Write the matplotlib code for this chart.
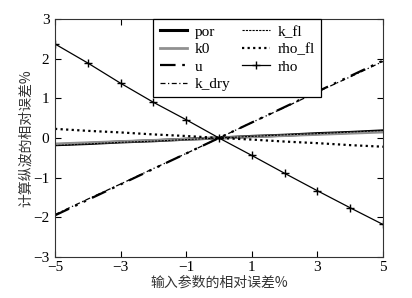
import matplotlib
matplotlib.use("Agg")
import matplotlib.pyplot as plt

x = [-5, -4, -3, -2, -1, 0, 1, 2, 3, 4, 5]
por = [-0.17, -0.14, -0.10, -0.07, -0.03, 0, 0.04, 0.07, 0.11, 0.14, 0.18]
k0 = [-0.15, -0.12, -0.09, -0.06, -0.03, 0, 0.03, 0.06, 0.09, 0.12, 0.15]
u = [-1.95, -1.56, -1.17, -0.78, -0.39, 0, 0.39, 0.78, 1.17, 1.56, 1.95]
k_dry = [-1.93, -1.54, -1.16, -0.77, -0.39, 0, 0.39, 0.77, 1.16, 1.54, 1.93]
k_fl = [-0.19, -0.15, -0.11, -0.08, -0.04, 0, 0.04, 0.08, 0.11, 0.15, 0.19]
rho_fl = [0.23, 0.18, 0.14, 0.09, 0.05, 0, -0.04, -0.09, -0.13, -0.18, -0.22]
rho = [2.37, 1.89, 1.38, 0.90, 0.46, 0, -0.44, -0.89, -1.33, -1.76, -2.18]

xticks = [-5, -3, -1, 1, 3, 5]
yticks = [-3, -2, -1, 0, 1, 2, 3]

serif = ["Liberation Serif", "DejaVu Serif"]
cjk = ["Noto Sans CJK SC", "DejaVu Sans"]

fig = plt.figure(figsize=(4.12, 2.98), dpi=100)
ax = fig.add_axes([0.1335, 0.1376, 0.7961, 0.7987])

ax.plot(x, por, color="black", lw=2.2, label="por")
ax.plot(x, k0, color="#909090", lw=2.0, label="k0")
ax.plot(x, u, color="black", lw=1.6, dashes=(7, 3, 1.2, 3, 1.2, 3), label="u")
ax.plot(x, k_dry, color="black", lw=0.9, dashes=(4, 2, 1, 2), label="k_dry")
ax.plot(x, k_fl, color="black", lw=0.8, dashes=(2, 1), label="k_fl")
ax.plot(x, rho_fl, color="black", lw=1.6, dashes=(1, 1.5), label="rho_fl")
ax.plot(x, rho, color="black", lw=0.9, marker="+", ms=6, mew=1.0, label="rho")

ax.set_xlim(-5, 5)
ax.set_ylim(-3, 3)
ax.set_xticks(xticks)
ax.set_yticks(yticks)
ax.tick_params(direction="in", top=True, right=True, length=4, width=0.8, labelsize=11)
ax.tick_params(axis="x", pad=3)
ax.tick_params(axis="y", pad=4)
for lab in ax.get_xticklabels() + ax.get_yticklabels():
    lab.set_fontfamily(serif)
for s in ax.spines.values():
    s.set_linewidth(0.8)
    s.set_color("#333333")

ax.set_xlabel("输入参数的相对误差%", family=cjk, fontsize=10, labelpad=1, color="#333333")
ax.set_ylabel("计算纵波的相对误差%", family=cjk, fontsize=10, labelpad=0, color="#333333")

leg = ax.legend(ncol=2, loc="upper left", bbox_to_anchor=(0.30, 1.0), frameon=True,
                fancybox=False, framealpha=1, edgecolor="black", borderaxespad=0,
                prop={"family": serif, "size": 11}, handlelength=1.8, handletextpad=0.5,
                columnspacing=0.8, labelspacing=0.25, borderpad=0.4)
leg.get_frame().set_linewidth(0.9)

fig.savefig("out.png", dpi=100)
